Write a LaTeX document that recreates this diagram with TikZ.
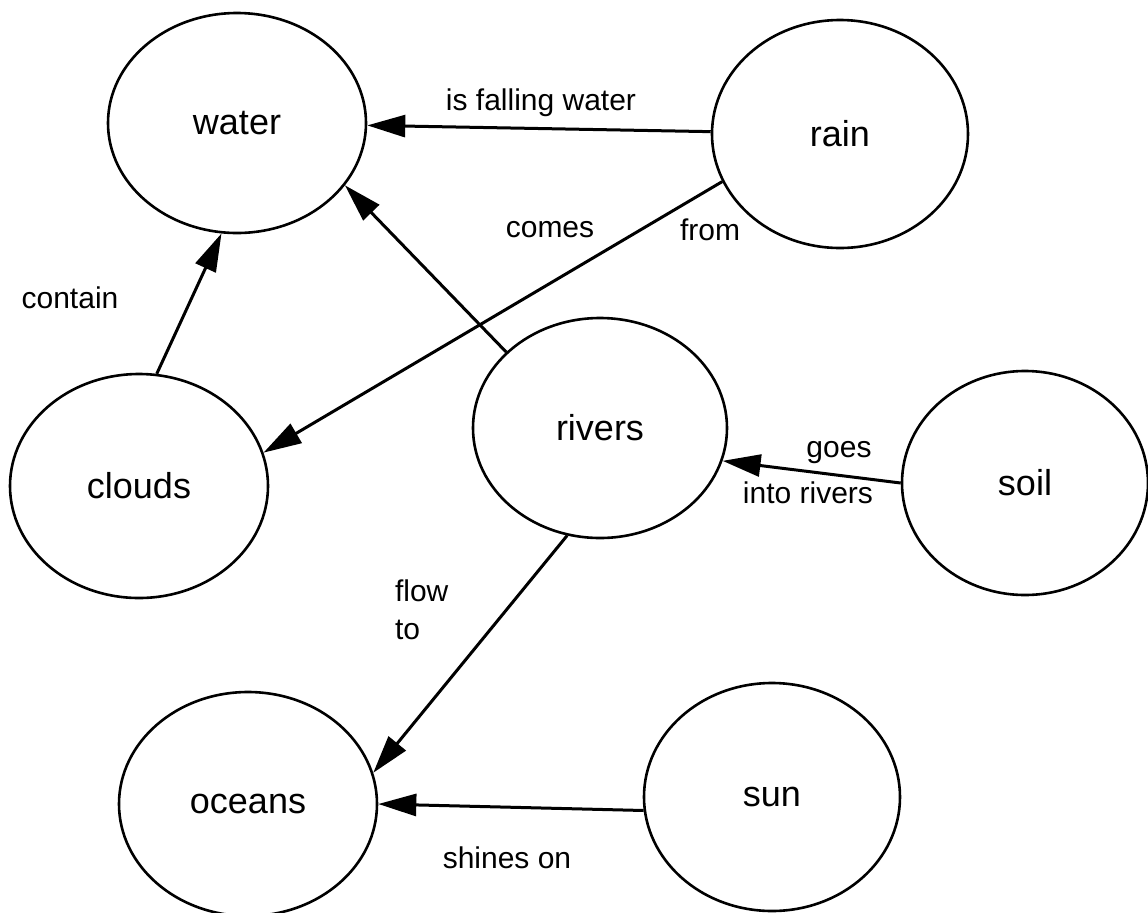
\documentclass[tikz,border=0pt]{standalone}
\usepackage{fontspec}
\setmainfont{Liberation Sans}
\usetikzlibrary{shapes.geometric, arrows.meta, positioning}

\begin{document}
\begin{tikzpicture}[x=0.5pt, y=-0.5pt,
    concept/.style={ellipse, draw, line width=1.3pt, inner sep=0pt, font=\fontsize{18}{20}\selectfont},
    link/.style={-{Triangle[length=19pt, width=11pt]}, line width=1.5pt},
    linklabel/.style={font=\fontsize{15}{17}\selectfont}]
    \useasboundingbox (0,0) rectangle (1148,912);

    % --- Concepts ---
    \node[concept, minimum width=129pt, minimum height=110pt] (water)  at (237,123) {water};
    \node[concept, minimum width=128pt, minimum height=114pt] (rain)   at (840,134) {rain};
    \node[concept, minimum width=129pt, minimum height=112pt] (clouds) at (139,486) {clouds};
    \node[concept, minimum width=127pt, minimum height=110pt] (rivers) at (600,428) {rivers};
    \node[concept, minimum width=123pt, minimum height=112pt] (soil)   at (1025,483) {soil};
    \node[concept, minimum width=129pt, minimum height=112pt] (oceans) at (248,804) {oceans};
    \node[concept, minimum width=128pt, minimum height=114pt] (sun)    at (772,797) {sun};

    % --- Links ---
    \draw[link] (rain) -- (water);
    \draw[link] (rain.202) -- (clouds.15);
    \draw[link] (rivers.141) -- (water.330);
    \draw[link] (clouds.81) -- (water.262);
    \draw[link] (soil.west) -- (rivers.345);
    \draw[link] (rivers.253) -- (oceans.14);
    \draw[link] (sun.186) -- (oceans.0); % shines on

    % --- Link labels ---
    \node[linklabel] (l-falling) at (541,103) {is falling water};
    \node[linklabel] (l-comes)   at (550,230) {comes};
    \node[linklabel] (l-from)    at (710,230) {from};
    \node[linklabel] (l-contain) at (70,298)  {contain};
    \node[linklabel] (l-goes)    at (839,453) {goes};
    \node[linklabel] (l-into)    at (808,493) {into rivers};
    \node[linklabel, anchor=west] (l-flow) at (388,591) {flow};
    \node[linklabel, anchor=west] (l-to)   at (388,630) {to};
    \node[linklabel] (l-shines)  at (507,858) {shines on};

\end{tikzpicture}
\end{document}
